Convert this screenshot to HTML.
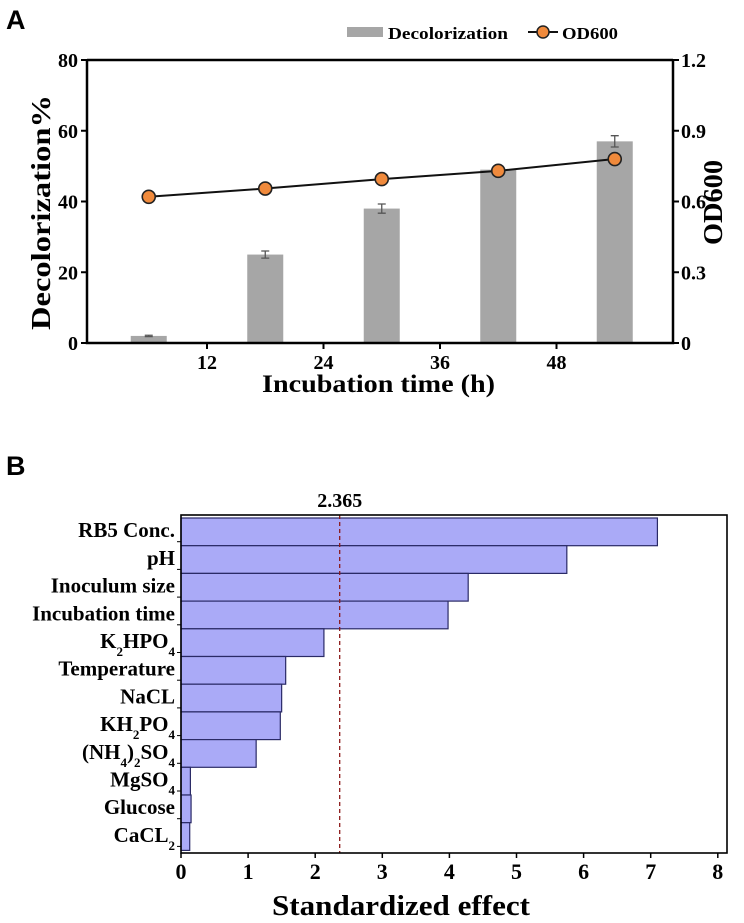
<!DOCTYPE html>
<html><head><meta charset="utf-8"><style>
html,body{margin:0;padding:0;background:#fff;width:744px;height:923px;overflow:hidden}
svg text{font-family:"Liberation Serif",serif;font-weight:bold;fill:#000}
.lt{font-family:"Liberation Sans",sans-serif}
</style></head><body>
<svg id="fig" width="744" height="923" viewBox="0 0 744 923">
<text class="lt" x="6" y="29" font-size="27">A</text>
<text class="lt" x="6" y="475" font-size="27">B</text>
<g id="A"></g>
<g id="B"></g>
</svg>
<script>
const times=[6,18,30,42,54];
const xTicks=[12,24,36,48];
const decol=[2,25,38,49,57];
const decolErr=[0.2,1,1.3,0.3,1.6];
const od=[0.62,0.655,0.695,0.73,0.78];
const odErr=[0.02,0.015,0.012,0.015,0.01];
const yLeftTicks=[0,20,40,60,80];
const yRightTicks=[0,0.3,0.6,0.9,1.2];
const factors=["RB5 Conc.","pH","Inoculum size","Incubation time","K2HPO4","Temperature","NaCL","KH2PO4","(NH4)2SO4","MgSO4","Glucose","CaCL2"];
const effects=[7.1,5.75,4.28,3.98,2.13,1.56,1.5,1.48,1.12,0.14,0.15,0.13];
const effTicks=[0,1,2,3,4,5,6,7,8];
const threshold=2.365;

const NS="http://www.w3.org/2000/svg";
function mk(p,t,a,txt){const e=document.createElementNS(NS,t);for(const k in a)e.setAttribute(k,a[k]);if(txt!==undefined)e.textContent=txt;p.appendChild(e);return e;}

// Chart A
const A=document.getElementById('A');
const L=87,R=673,T=60,Bt=343;
const xA=v=>90.5+(v/12)*116.5;
const yL=v=>Bt-(v/80)*(Bt-T);
const yR=v=>Bt-(v/1.2)*(Bt-T);
let e;
times.forEach((t,i)=>{
 e=mk(A,'rect',{x:xA(t)-18,y:yL(decol[i]),width:36,height:Bt-yL(decol[i]),fill:'#a6a6a6'});
 
 
 const x=xA(t),y1=yL(decol[i]+decolErr[i]),y2=yL(decol[i]-decolErr[i]);
 e=mk(A,'path',{d:`M${x},${y1}V${y2}M${x-4},${y1}H${x+4}M${x-4},${y2}H${x+4}`,stroke:'#555','stroke-width':1.3,fill:'none'});
 
 
});
e=mk(A,'polyline',{points:times.map((t,i)=>xA(t)+','+yR(od[i])).join(' '),fill:'none',stroke:'#111','stroke-width':2});


times.forEach((t,i)=>{
 const x=xA(t),y1=yR(od[i]+odErr[i]),y2=yR(od[i]-odErr[i]);
 mk(A,'path',{d:`M${x},${y1}V${y2}M${x-4},${y1}H${x+4}M${x-4},${y2}H${x+4}`,stroke:'#333','stroke-width':1.2,fill:'none'});
 e=mk(A,'circle',{cx:x,cy:yR(od[i]),r:6.5,fill:'#f08a3c',stroke:'#222','stroke-width':1.6});
 
 
});
e=mk(A,'path',{d:`M${L},${T}V${Bt}H${R}V${T}M${L},${T}H${R}`,stroke:'#000','stroke-width':2.5,fill:'none'});


yLeftTicks.forEach(v=>{mk(A,'line',{x1:L-6,x2:L,y1:yL(v),y2:yL(v),stroke:'#000','stroke-width':2});
 e=mk(A,'text',{x:L-9,y:yL(v)+7,'font-size':20,'text-anchor':'end'},v);
 
 });
yRightTicks.forEach(v=>{mk(A,'line',{x1:R,x2:R+6,y1:yR(v),y2:yR(v),stroke:'#000','stroke-width':2});
 e=mk(A,'text',{x:R+8,y:yR(v)+7,'font-size':20},v===0?'0':v.toFixed(1));
 
 });
xTicks.forEach(v=>{mk(A,'line',{x1:xA(v),x2:xA(v),y1:Bt,y2:Bt+6,stroke:'#000','stroke-width':2});
 e=mk(A,'text',{x:xA(v),y:Bt+26,'font-size':20,'text-anchor':'middle'},v);
 
 });
e=mk(A,'text',{x:262,y:392,'font-size':25,textLength:233,lengthAdjust:'spacingAndGlyphs'},'Incubation time (h)');


e=mk(A,'text',{x:0,y:0,'font-size':27,textLength:235,lengthAdjust:'spacingAndGlyphs',transform:'translate(50,330) rotate(-90)'},'Decolorization%');


e=mk(A,'text',{x:0,y:0,'font-size':27,textLength:85,lengthAdjust:'spacingAndGlyphs',transform:'translate(722,245) rotate(-90)'},'OD600');


// legend
const lg=mk(A,'g',{});


mk(lg,'rect',{x:347,y:27,width:36,height:10,fill:'#a6a6a6'});
mk(lg,'text',{x:388,y:39,'font-size':17,textLength:120,lengthAdjust:'spacingAndGlyphs'},'Decolorization');
mk(lg,'line',{x1:528,x2:558,y1:32,y2:32,stroke:'#111','stroke-width':2});
mk(lg,'circle',{cx:543,cy:32,r:6,fill:'#f08a3c',stroke:'#222','stroke-width':1.5});
mk(lg,'text',{x:562,y:39,'font-size':17,textLength:56,lengthAdjust:'spacingAndGlyphs'},'OD600');

// Chart B
const B=document.getElementById('B');
const bL=181,bR=727,bT=515,bB=853,rT=518,rowH=27.7;
const xB=v=>bL+v*67.1;
function sub(label){return label.replace(/(\d)/g,'<tspan font-size="13" baseline-shift="sub">$1</tspan>');}
factors.forEach((f,i)=>{
 const y=rT+i*rowH;
 e=mk(B,'rect',{x:bL,y:y,width:xB(effects[i])-bL,height:rowH,fill:'#aaaaf7',stroke:'#2a2a66','stroke-width':1.2});
 
 
 mk(B,'line',{x1:bL-4,x2:bL,y1:y+rowH-4,y2:y+rowH-4,stroke:'#000','stroke-width':1});
 e=mk(B,'text',{x:bL-6,y:y+rowH*0.55+4,'font-size':21,'text-anchor':'end'});
 e.innerHTML=f==='RB5 Conc.'?f:sub(f);
 
 
});
e=mk(B,'line',{x1:xB(threshold),x2:xB(threshold),y1:bT,y2:bB,stroke:'#8b1a1a','stroke-width':1.3,'stroke-dasharray':'4,3'});


e=mk(B,'text',{x:xB(threshold),y:507,'font-size':20,'text-anchor':'middle'},threshold);


e=mk(B,'rect',{x:bL,y:bT,width:bR-bL,height:bB-bT,fill:'none',stroke:'#000','stroke-width':1.6});


effTicks.forEach(v=>{mk(B,'line',{x1:xB(v),x2:xB(v),y1:bB,y2:bB+5,stroke:'#000','stroke-width':1.5});
 e=mk(B,'text',{x:xB(v),y:bB+26,'font-size':22,'text-anchor':'middle'},v);
 
 });
e=mk(B,'text',{x:272,y:915,'font-size':29,textLength:258,lengthAdjust:'spacingAndGlyphs'},'Standardized effect');


</script>
</body></html>
